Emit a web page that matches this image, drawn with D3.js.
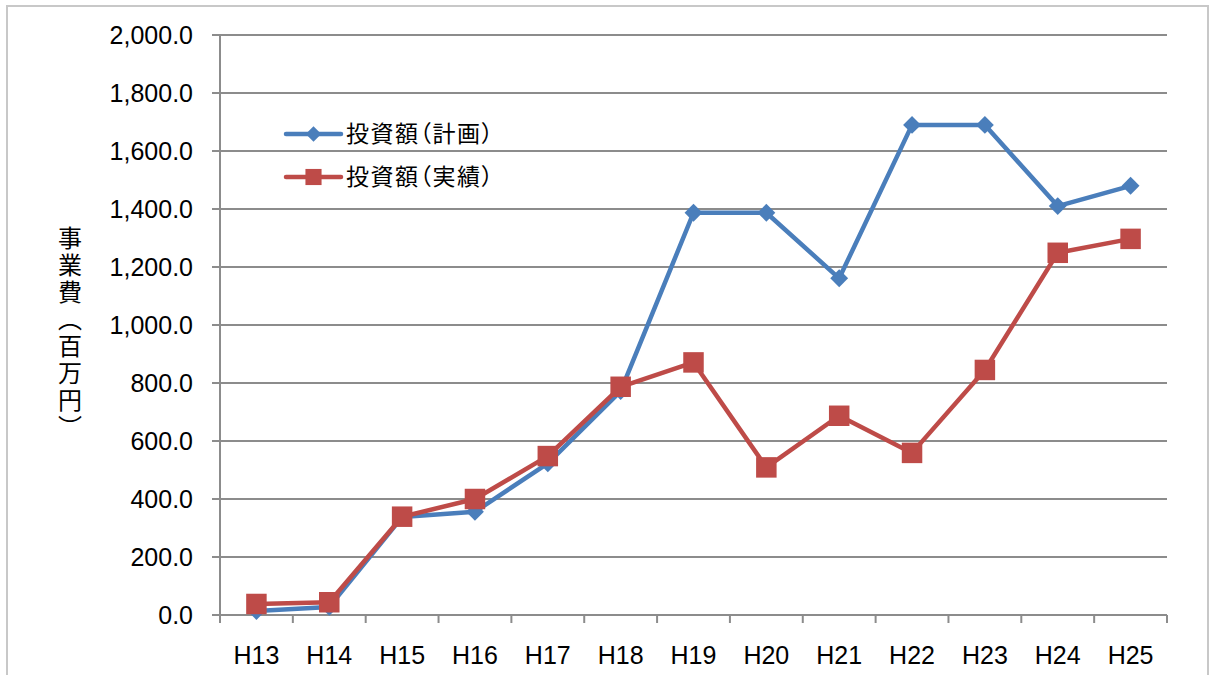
<!DOCTYPE html>
<html>
<head>
<meta charset="utf-8">
<script src="https://cdn.jsdelivr.net/npm/d3@7"></script>
<style>
  body { margin: 0; background: #fff; }
  text { font-family: "Liberation Sans", Arial, sans-serif; fill: #000; }
  .jp { font-family: "Noto Sans CJK JP", sans-serif; }
</style>
</head>
<body>
<div id="chart"></div>
<script>
const width = 1211;
const height = 675;

// Chart data
const years = ['H13', 'H14', 'H15', 'H16', 'H17', 'H18', 'H19', 'H20', 'H21', 'H22', 'H23', 'H24', 'H25'];
const planValues = [14, 28, 338, 356, 523, 772, 1387, 1387, 1161, 1690, 1690, 1410, 1480];
const actualValues = [38, 44, 339, 400, 548, 787, 871, 509, 687, 559, 845, 1249, 1297];
const yTicks = [0, 200, 400, 600, 800, 1000, 1200, 1400, 1600, 1800, 2000];
const seriesNames = ['投資額（計画）', '投資額（実績）'];

const blue = '#4a7ebb';
const red = '#be4b48';
const gridColor = '#8c8c8c';

const svg = d3.select('#chart')
  .append('svg')
  .attr('width', width)
  .attr('height', height);

// outer frame
svg.append('rect')
  .attr('x', 7).attr('y', 6)
  .attr('width', 1201).attr('height', 700)
  .attr('fill', 'none')
  .attr('stroke', '#c8c8c8')
  .attr('stroke-width', 2);

const x = d3.scaleBand().domain(years).range([220, 1167]);
const y = d3.scaleLinear().domain([0, 2000]).range([615, 35]);

// horizontal gridlines + y ticks
svg.append('g')
  .selectAll('line')
  .data(yTicks)
  .enter()
  .append('line')
  .attr('x1', 212).attr('x2', 1167)
  .attr('y1', d => y(d)).attr('y2', d => y(d))
  .attr('stroke', gridColor)
  .attr('stroke-width', 2);

// y axis line
svg.append('line')
  .attr('x1', 220).attr('x2', 220)
  .attr('y1', y(2000)).attr('y2', y(0))
  .attr('stroke', gridColor)
  .attr('stroke-width', 2);

// x tick marks at band boundaries
const xBounds = years.map(d => x(d)).concat([x.range()[1]]);
svg.append('g')
  .selectAll('line')
  .data(xBounds)
  .enter()
  .append('line')
  .attr('x1', d => d).attr('x2', d => d)
  .attr('y1', y(0)).attr('y2', y(0) + 8)
  .attr('stroke', gridColor)
  .attr('stroke-width', 2);

// y tick labels
svg.append('g')
  .selectAll('text')
  .data(yTicks)
  .enter()
  .append('text')
  .attr('x', 193)
  .attr('y', d => y(d) + 8.5)
  .attr('text-anchor', 'end')
  .style('font-size', '25px')
  .text(d => d3.format(',.1f')(d));

// x tick labels
svg.append('g')
  .selectAll('text')
  .data(years)
  .enter()
  .append('text')
  .attr('x', d => x(d) + x.bandwidth() / 2)
  .attr('y', 664)
  .attr('text-anchor', 'middle')
  .style('font-size', '25px')
  .text(d => d);

// y axis title, stacked vertically
svg.append('text')
  .attr('class', 'jp')
  .attr('x', 70)
  .attr('y', 226)
  .style('writing-mode', 'vertical-rl')
  .style('font-size', '24px')
  .style('letter-spacing', '3px')
  .text('事業費（百万円）');

const cx = d => x(d) + x.bandwidth() / 2;
const line = d3.line()
  .x(d => cx(d.year))
  .y(d => y(d.value));

const planData = years.map((yr, i) => ({ year: yr, value: planValues[i] }));
const actualData = years.map((yr, i) => ({ year: yr, value: actualValues[i] }));

const diamond = d3.symbol().type(d3.symbolSquare).size(160);
const square = d3.symbol().type(d3.symbolSquare).size(420);

// plan series (blue diamonds)
svg.append('path')
  .datum(planData)
  .attr('d', line)
  .attr('fill', 'none')
  .attr('stroke', blue)
  .attr('stroke-width', 4.5)
  .attr('stroke-linejoin', 'round');

svg.append('g')
  .selectAll('path')
  .data(planData)
  .enter()
  .append('path')
  .attr('d', diamond)
  .attr('transform', d => `translate(${cx(d.year)},${y(d.value)}) rotate(45)`)
  .attr('fill', blue);

// actual series (red squares)
svg.append('path')
  .datum(actualData)
  .attr('d', line)
  .attr('fill', 'none')
  .attr('stroke', red)
  .attr('stroke-width', 4.5)
  .attr('stroke-linejoin', 'round');

svg.append('g')
  .selectAll('path')
  .data(actualData)
  .enter()
  .append('path')
  .attr('d', square)
  .attr('transform', d => `translate(${cx(d.year)},${y(d.value)})`)
  .attr('fill', red);

// legend
const legend = svg.append('g');
[blue, red].forEach(function (col, i) {
  const ly = 134 + i * 43;
  legend.append('line')
    .attr('x1', 286).attr('x2', 341)
    .attr('y1', ly).attr('y2', ly)
    .attr('stroke', col)
    .attr('stroke-width', 4.5)
    .attr('stroke-linecap', 'round');
  legend.append('path')
    .attr('d', i === 0 ? d3.symbol().type(d3.symbolSquare).size(120)() : d3.symbol().type(d3.symbolSquare).size(260)())
    .attr('transform', i === 0 ? `translate(313.5,${ly}) rotate(45)` : `translate(313.5,${ly})`)
    .attr('fill', col);
  legend.append('text')
    .attr('class', 'jp')
    .attr('x', 346)
    .attr('y', ly + 8)
    .style('font-size', '23px')
    .style('font-feature-settings', '"palt"')
    .style('letter-spacing', '1.5px')
    .text(seriesNames[i]);
});
</script>
</body>
</html>
